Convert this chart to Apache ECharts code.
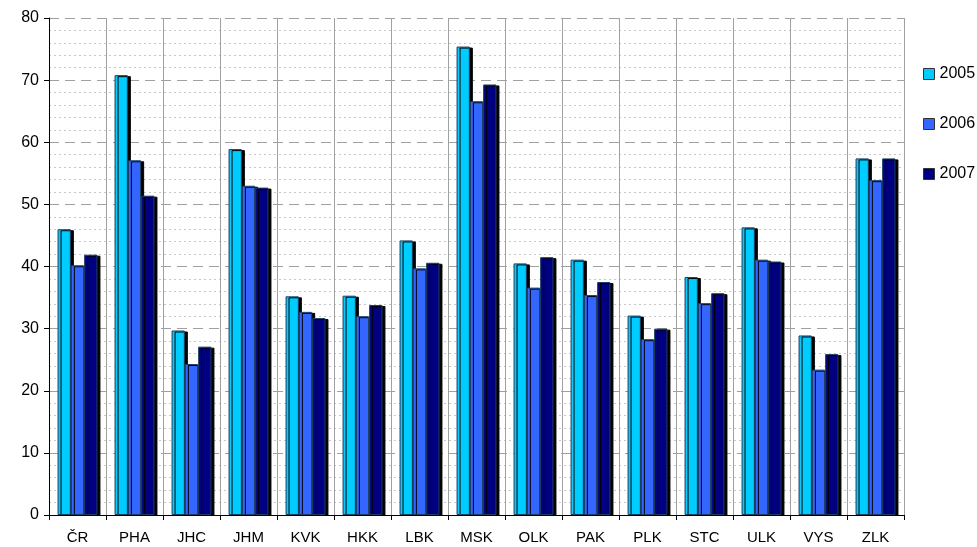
<!DOCTYPE html>
<html>
<head>
<meta charset="utf-8">
<script src="https://cdn.jsdelivr.net/npm/echarts@6/dist/echarts.min.js"></script>
<style>
  html, body { margin: 0; padding: 0; background: #fff; }
  #chart { width: 977px; height: 547px; }
</style>
</head>
<body>
<div id="chart"></div>
<script>
// kraje
const categories = ['ČR', 'PHA', 'JHC', 'JHM', 'KVK', 'HKK', 'LBK', 'MSK', 'OLK', 'PAK', 'PLK', 'STC', 'ULK', 'VYS', 'ZLK']
const years = ['2005', '2006', '2007']
const values2005 = [46.0, 70.8, 29.7, 58.9, 35.2, 35.3, 44.2, 75.4, 40.5, 41.1, 32.1, 38.3, 46.3, 28.9, 57.4]
const values2006 = [40.2, 57.1, 24.3, 53.0, 32.7, 32.0, 39.7, 66.6, 36.6, 35.4, 28.3, 34.1, 41.1, 23.4, 53.9]
const values2007 = [41.9, 51.4, 27.1, 52.7, 31.7, 33.8, 40.6, 69.3, 41.5, 37.5, 30.0, 35.7, 40.8, 25.9, 57.4]
const yTicks = [0, 10, 20, 30, 40, 50, 60, 70, 80]
const colors = ['#00ccff', '#3366ff', '#000080']

const myChar = echarts.init(document.getElementById('chart'))

function barSeries(name, data, color) {
  return {
    name: name,
    type: 'bar',
    data: data,
    barGap: '0%',
    barCategoryGap: '30%',
    itemStyle: {
      color: color,
      borderColor: '#1f3f5f',
      borderWidth: 1,
      shadowColor: '#000',
      shadowOffsetX: 3,
      shadowOffsetY: 1,
      shadowBlur: 0
    }
  }
}

const option = {
  animation: false,
  textStyle: { fontFamily: 'Liberation Sans, Arial, sans-serif' },
  grid: { left: 49, right: 73, top: 18, bottom: 32 },
  legend: {
    data: years,
    orient: 'vertical',
    left: 918,
    top: 61,
    itemWidth: 11,
    itemHeight: 11,
    itemGap: 34,
    icon: 'rect',
    itemStyle: { borderColor: '#333', borderWidth: 1 },
    textStyle: { fontSize: 16, color: '#000' }
  },
  xAxis: {
    type: 'category',
    data: categories,
    axisLine: { lineStyle: { color: '#000', width: 1 } },
    axisTick: { show: true, inside: false, length: 5, lineStyle: { color: '#000' } },
    axisLabel: { fontSize: 15, color: '#000', margin: 15 },
    splitLine: { show: true, interval: 0, lineStyle: { color: '#a0a0a0', width: 1 } }
  },
  yAxis: {
    type: 'value',
    min: 0,
    max: 80,
    interval: 10,
    axisLine: { show: true, lineStyle: { color: '#000', width: 1 } },
    axisTick: { show: true, length: 5, lineStyle: { color: '#000' } },
    axisLabel: {
      fontSize: 16, color: '#000', margin: 10,
      formatter: function (v) { return yTicks.indexOf(v) >= 0 ? String(v) : '' }
    },
    splitLine: { show: true, lineStyle: { color: '#a0a0a0', type: [10, 6], width: 1 } },
    minorTick: { show: false, splitNumber: 5 },
    minorSplitLine: { show: true, lineStyle: { color: '#c8c8c8', type: [2, 3], width: 1 } }
  },
  series: [
    barSeries(years[0], values2005, colors[0]),
    barSeries(years[1], values2006, colors[1]),
    barSeries(years[2], values2007, colors[2])
  ]
}

myChar.setOption(option)
</script>
</body>
</html>
